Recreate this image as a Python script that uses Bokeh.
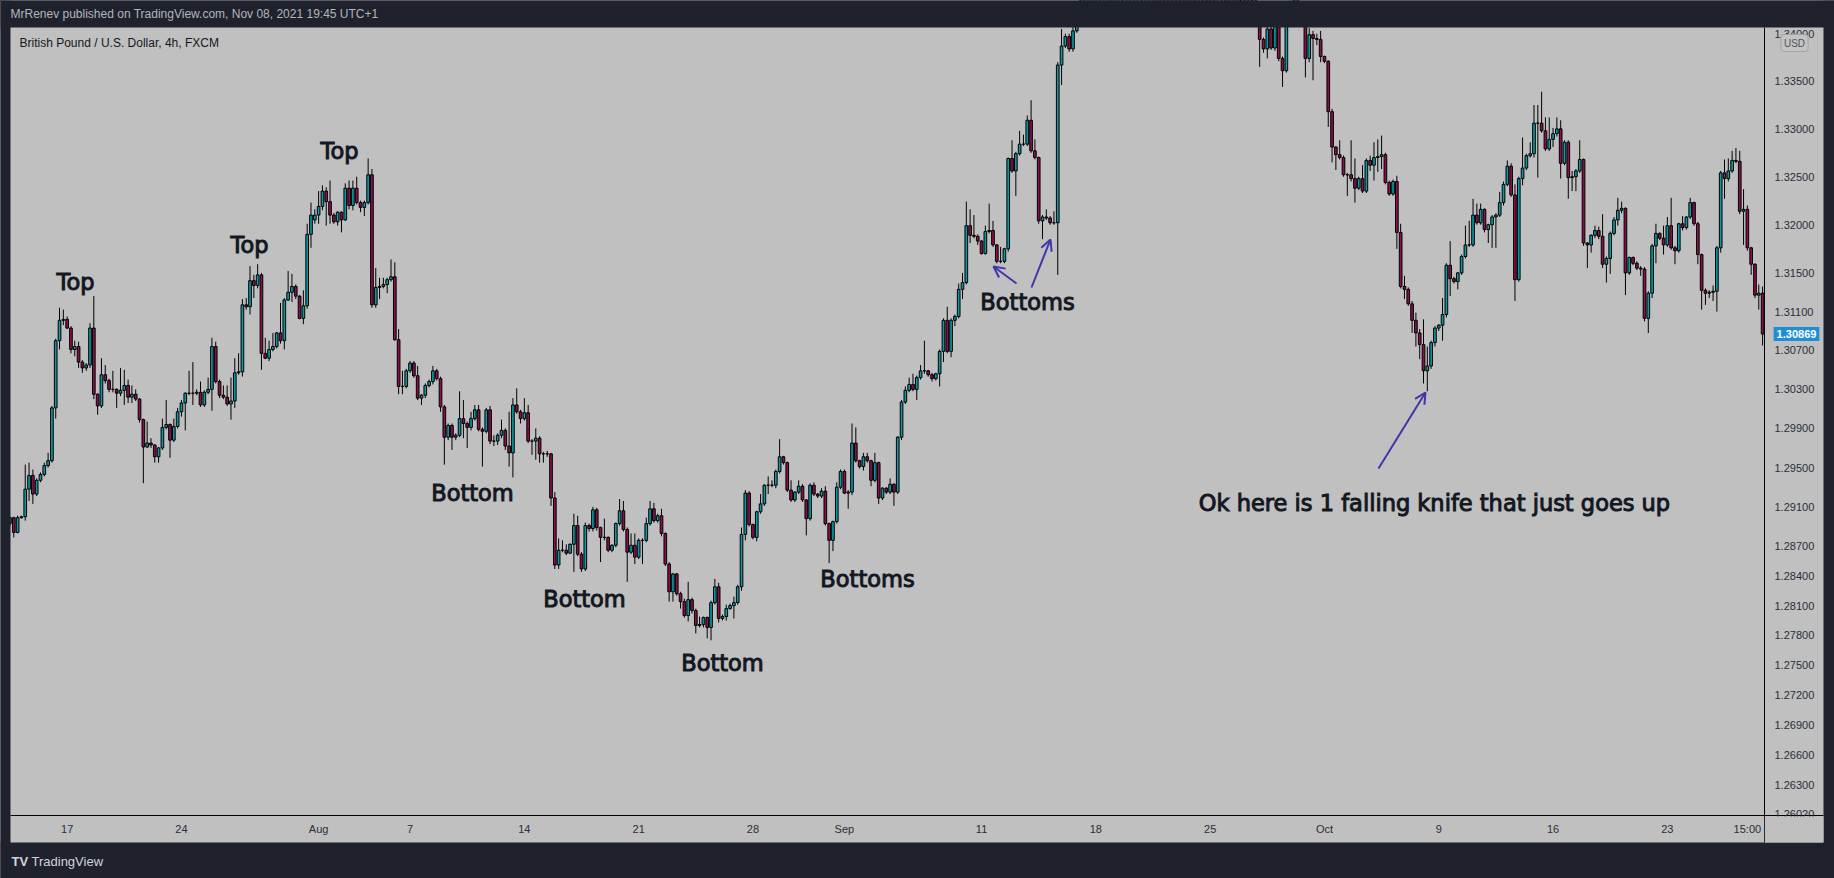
import numpy as np
from bokeh.plotting import figure
from bokeh.models import (ColumnDataSource, Range1d, LinearAxis, FixedTicker, PrintfTickFormatter,
                          Label, Arrow, OpenHead, BoxAnnotation, GlobalInlineStyleSheet)
from bokeh.embed import file_html
from bokeh.resources import INLINE

# GBP/USD 4h candles, values in pips above 1.2600 (price = 1.2600 + pips / 10000)
BASE = 1.26
open_pips = [
 293, 299, 284, 299, 300, 328, 342, 323, 337, 343, 352, 357, 411, 480, 501, 502, 493, 471, 474, 458,
 452, 455, 493, 425, 413, 445, 439, 430, 430, 426, 429, 434, 422, 425, 420, 399, 371, 375, 373, 361,
 370, 391, 394, 378, 392, 407, 416, 426, 426, 426, 427, 414, 427, 430, 474, 438, 424, 422, 415, 418,
 447, 448, 517, 515, 542, 537, 548, 467, 462, 471, 474, 488, 480, 522, 530, 536, 526, 503, 516, 590,
 605, 610, 619, 635, 624, 610, 603, 613, 605, 638, 620, 638, 623, 618, 623, 652, 517, 535, 536, 538,
 543, 546, 481, 433, 433, 449, 457, 444, 421, 424, 434, 438, 449, 441, 412, 381, 393, 381, 383, 400,
 395, 391, 400, 409, 389, 387, 409, 377, 377, 383, 388, 372, 365, 414, 407, 400, 406, 377, 377, 380,
 364, 364, 364, 319, 251, 266, 266, 263, 272, 291, 262, 247, 291, 288, 307, 289, 279, 279, 266, 271,
 293, 306, 287, 264, 271, 259, 276, 276, 293, 308, 296, 301, 283, 252, 224, 242, 222, 214, 200, 216,
 205, 190, 191, 198, 188, 213, 229, 197, 199, 207, 210, 213, 229, 282, 324, 292, 279, 305, 313, 332,
 332, 332, 346, 361, 355, 327, 317, 325, 331, 317, 298, 332, 323, 321, 326, 293, 276, 295, 330, 346,
 324, 325, 375, 357, 351, 361, 357, 337, 355, 319, 329, 325, 333, 325, 381, 417, 429, 435, 430, 442,
 449, 449, 445, 441, 446, 469, 501, 469, 501, 505, 533, 540, 599, 589, 588, 583, 570, 593, 594, 579,
 562, 562, 575, 669, 656, 674, 684, 684, 709, 677, 670, 604, 608, 607, 602, 602, 767, 787, 797, 784,
 803, 818, 845, 870, 880, 900, 910, 905, 915, 930, 925, 935, 950, 945, 960, 975, 990, 1000, 985, 1010,
 1030, 1040, 1020, 1000, 985, 970, 960, 950, 940, 930, 925, 910, 900, 905, 890, 880, 870, 860, 865, 855,
 850, 860, 845, 840, 835, 830, 840, 835, 810, 794, 784, 805, 785, 810, 774, 761, 812, 830, 835, 825,
 812, 774, 799, 795, 794, 776, 771, 718, 681, 673, 670, 652, 652, 648, 638, 648, 635, 667, 662, 670,
 671, 673, 644, 632, 645, 592, 536, 533, 518, 501, 488, 476, 449, 454, 478, 493, 496, 507, 558, 544,
 541, 550, 567, 579, 579, 610, 602, 616, 595, 600, 608, 610, 623, 642, 661, 631, 543, 648, 659, 672,
 674, 706, 706, 698, 679, 689, 695, 700, 664, 686, 649, 650, 656, 668, 581, 579, 589, 594, 588, 559,
 565, 591, 605, 615, 617, 550, 566, 560, 555, 554, 503, 529, 578, 591, 586, 579, 599, 576, 573, 601,
 597, 608, 623, 601, 569, 532, 529, 530, 531, 576, 654, 648, 656, 667, 666, 614, 616, 576, 559, 527,
 529]
high_pips = [
 300, 300, 301, 301, 353, 355, 348, 339, 345, 355, 365, 413, 482, 514, 512, 505, 495, 480, 479, 460,
 457, 498, 526, 426, 462, 455, 441, 449, 431, 452, 450, 440, 434, 430, 421, 400, 397, 380, 374, 371,
 400, 419, 395, 400, 411, 419, 427, 449, 458, 430, 438, 429, 442, 483, 479, 440, 434, 434, 442, 462,
 467, 523, 524, 557, 548, 559, 550, 483, 480, 488, 489, 519, 524, 552, 549, 538, 527, 532, 601, 623,
 616, 635, 641, 639, 646, 612, 614, 614, 643, 646, 646, 650, 625, 625, 669, 658, 555, 545, 545, 545,
 564, 561, 492, 449, 451, 459, 459, 454, 425, 436, 440, 454, 451, 443, 414, 395, 395, 385, 428, 419,
 397, 407, 414, 414, 391, 411, 413, 383, 385, 399, 390, 407, 421, 431, 409, 421, 414, 379, 390, 382,
 366, 367, 365, 325, 278, 276, 272, 273, 303, 301, 264, 294, 293, 310, 309, 290, 298, 280, 272, 294,
 318, 316, 289, 283, 283, 278, 278, 299, 316, 314, 303, 308, 284, 254, 243, 243, 224, 217, 234, 218,
 207, 199, 199, 199, 215, 237, 233, 201, 211, 212, 219, 231, 289, 327, 326, 293, 306, 323, 333, 341,
 337, 348, 379, 362, 356, 337, 326, 337, 333, 318, 334, 335, 324, 329, 331, 294, 296, 335, 348, 348,
 327, 395, 391, 358, 365, 365, 358, 365, 356, 330, 330, 339, 334, 382, 419, 433, 442, 446, 444, 455,
 480, 450, 447, 447, 471, 503, 515, 503, 507, 539, 550, 624, 616, 610, 590, 584, 599, 622, 604, 580,
 577, 576, 670, 688, 676, 698, 694, 714, 730, 689, 671, 610, 616, 609, 614, 770, 805, 800, 800, 808,
 822, 850, 875, 888, 905, 918, 915, 922, 938, 935, 942, 958, 955, 966, 980, 996, 1008, 1005, 1015, 1036,
 1050, 1045, 1026, 1005, 990, 975, 966, 955, 946, 935, 930, 915, 912, 908, 895, 885, 875, 872, 868, 860,
 866, 863, 850, 845, 840, 846, 843, 840, 820, 796, 808, 808, 815, 815, 776, 818, 835, 842, 840, 830,
 818, 806, 803, 800, 803, 777, 772, 721, 682, 688, 672, 654, 688, 669, 650, 662, 669, 672, 686, 689,
 693, 675, 646, 647, 651, 601, 547, 535, 521, 509, 492, 502, 474, 480, 495, 497, 524, 560, 583, 546,
 551, 569, 599, 604, 627, 622, 622, 617, 601, 610, 612, 634, 645, 667, 664, 642, 650, 691, 674, 686,
 725, 725, 739, 712, 712, 701, 712, 709, 688, 688, 656, 658, 688, 669, 582, 590, 599, 598, 611, 567,
 593, 608, 628, 624, 618, 567, 567, 562, 557, 556, 531, 580, 601, 592, 599, 608, 628, 578, 602, 609,
 609, 628, 624, 603, 570, 534, 532, 537, 578, 656, 668, 669, 677, 680, 677, 637, 620, 577, 560, 538,
 536]
low_pips = [
 291, 279, 283, 298, 296, 316, 313, 321, 335, 341, 350, 355, 400, 471, 496, 492, 467, 464, 452, 447,
 449, 452, 420, 404, 411, 436, 427, 427, 411, 423, 414, 416, 416, 418, 396, 334, 370, 370, 355, 355,
 368, 389, 360, 376, 390, 402, 388, 424, 414, 424, 412, 412, 425, 408, 436, 421, 420, 413, 399, 411,
 445, 443, 512, 507, 524, 534, 450, 461, 459, 469, 472, 477, 471, 521, 520, 523, 502, 497, 513, 576,
 601, 601, 615, 599, 601, 601, 599, 592, 604, 616, 615, 621, 613, 609, 621, 514, 514, 523, 534, 529,
 541, 480, 425, 425, 431, 447, 442, 419, 414, 421, 432, 435, 439, 407, 353, 378, 368, 378, 381, 380,
 370, 388, 398, 387, 351, 385, 374, 372, 373, 380, 368, 351, 340, 405, 395, 398, 375, 363, 358, 355,
 355, 361, 311, 247, 247, 264, 261, 262, 244, 260, 244, 245, 285, 285, 286, 254, 276, 264, 264, 269,
 291, 285, 234, 262, 252, 257, 252, 274, 291, 294, 294, 280, 250, 214, 214, 220, 207, 198, 194, 202,
 182, 188, 188, 177, 175, 211, 193, 195, 195, 206, 197, 211, 225, 276, 290, 277, 275, 303, 311, 323,
 330, 329, 344, 353, 325, 315, 315, 323, 315, 281, 296, 321, 319, 319, 291, 253, 265, 293, 328, 323,
 308, 322, 355, 349, 347, 355, 331, 335, 313, 317, 323, 323, 311, 323, 378, 415, 427, 428, 419, 440,
 446, 443, 438, 439, 433, 458, 467, 463, 495, 503, 523, 538, 581, 586, 579, 569, 569, 591, 577, 560,
 560, 560, 572, 654, 630, 672, 682, 682, 675, 668, 601, 585, 605, 600, 600, 548, 746, 785, 781, 781,
 801, 812, 840, 862, 875, 895, 898, 900, 910, 918, 920, 930, 938, 940, 955, 970, 985, 978, 980, 1005,
 1025, 1015, 995, 980, 965, 955, 945, 935, 925, 918, 905, 895, 895, 885, 875, 865, 855, 856, 850, 845,
 846, 840, 835, 830, 825, 826, 830, 815, 765, 780, 774, 783, 782, 771, 744, 759, 810, 825, 820, 812,
 754, 770, 751, 788, 770, 769, 702, 665, 657, 668, 650, 630, 645, 623, 636, 633, 633, 656, 646, 655,
 658, 642, 630, 630, 575, 534, 523, 516, 488, 474, 461, 436, 428, 451, 474, 490, 480, 504, 526, 539,
 533, 548, 565, 577, 577, 600, 600, 592, 581, 576, 576, 608, 620, 640, 629, 521, 541, 641, 657, 670,
 670, 649, 696, 677, 677, 681, 692, 648, 662, 627, 635, 635, 654, 578, 555, 571, 586, 585, 555, 540,
 549, 589, 599, 612, 527, 548, 558, 553, 547, 500, 488, 524, 560, 584, 569, 577, 574, 559, 571, 594,
 595, 606, 599, 559, 512, 517, 524, 521, 510, 571, 627, 645, 654, 664, 611, 579, 573, 548, 524, 512,
 475]
close_pips = [
 299, 284, 299, 300, 328, 342, 323, 337, 343, 352, 357, 411, 480, 501, 502, 493, 471, 474, 458, 452,
 455, 493, 425, 413, 445, 439, 430, 430, 426, 429, 434, 422, 425, 420, 399, 371, 375, 373, 361, 370,
 391, 394, 378, 392, 407, 416, 426, 426, 426, 427, 414, 427, 430, 474, 438, 424, 422, 415, 418, 447,
 448, 517, 515, 542, 537, 548, 467, 462, 471, 474, 488, 480, 522, 530, 536, 526, 503, 516, 590, 610,
 610, 619, 635, 624, 610, 603, 613, 605, 638, 620, 638, 623, 618, 623, 652, 517, 535, 536, 538, 543,
 546, 481, 433, 433, 449, 457, 444, 421, 424, 434, 438, 449, 441, 412, 381, 393, 381, 383, 400, 395,
 391, 400, 409, 389, 387, 409, 377, 377, 383, 388, 372, 365, 414, 407, 400, 406, 377, 377, 380, 364,
 364, 364, 319, 251, 266, 266, 263, 272, 291, 262, 247, 291, 288, 307, 289, 279, 279, 266, 271, 293,
 306, 287, 264, 271, 259, 276, 276, 293, 308, 296, 301, 283, 252, 224, 242, 222, 214, 200, 216, 205,
 190, 191, 198, 188, 213, 229, 197, 199, 207, 210, 213, 229, 282, 324, 292, 279, 305, 313, 332, 332,
 332, 346, 361, 355, 327, 317, 325, 331, 317, 298, 332, 323, 321, 326, 293, 276, 295, 330, 346, 324,
 325, 375, 357, 351, 361, 357, 337, 355, 319, 329, 325, 333, 325, 381, 417, 429, 435, 430, 442, 449,
 449, 445, 441, 446, 469, 501, 469, 501, 505, 533, 540, 599, 589, 588, 583, 570, 593, 594, 579, 562,
 562, 575, 669, 656, 674, 684, 684, 709, 677, 670, 604, 608, 607, 602, 602, 767, 787, 797, 784, 803,
 818, 845, 870, 880, 900, 910, 905, 915, 930, 925, 935, 950, 945, 960, 975, 990, 1000, 985, 1010, 1030,
 1040, 1020, 1000, 985, 970, 960, 950, 940, 930, 925, 910, 900, 905, 890, 880, 870, 860, 865, 855, 850,
 860, 845, 840, 835, 830, 840, 835, 825, 794, 784, 805, 785, 810, 774, 761, 812, 830, 835, 825, 815,
 774, 799, 795, 794, 776, 771, 718, 681, 673, 670, 652, 652, 648, 638, 648, 635, 667, 662, 670, 671,
 673, 644, 632, 645, 592, 536, 533, 518, 501, 488, 476, 449, 454, 478, 493, 496, 507, 558, 544, 541,
 550, 567, 579, 579, 610, 602, 616, 595, 600, 608, 610, 623, 642, 661, 631, 543, 648, 659, 672, 674,
 706, 706, 698, 679, 689, 695, 700, 664, 686, 649, 650, 656, 668, 581, 579, 589, 594, 588, 559, 565,
 591, 605, 615, 617, 550, 566, 560, 555, 554, 503, 529, 578, 591, 586, 579, 599, 576, 573, 601, 597,
 608, 623, 601, 569, 532, 529, 530, 531, 576, 654, 648, 656, 667, 666, 614, 616, 576, 559, 527, 529,
 486.9]

time_tick_bars = [15, 45, 81, 105, 135, 165, 195, 219, 255, 285, 315, 345, 375, 405, 435, 456]
time_tick_labels = ["17", "24", "Aug", "7", "14", "21", "28", "Sep", "11", "18", "25", "Oct",
                    "9", "16", "23", "15:00"]
price_ticks = [1.34, 1.335, 1.33, 1.325, 1.32, 1.315, 1.311, 1.307, 1.303, 1.299, 1.295, 1.291,
               1.287, 1.284, 1.281, 1.278, 1.275, 1.272, 1.269, 1.266, 1.263, 1.2602]
last_price = 1.30869

n = len(close_pips)
assert len(open_pips) == n and len(high_pips) == n and len(low_pips) == n

o = BASE + np.array(open_pips, dtype=float) / 10000
h = BASE + np.array(high_pips, dtype=float) / 10000
l = BASE + np.array(low_pips, dtype=float) / 10000
c = BASE + np.array(close_pips, dtype=float) / 10000
idx = np.arange(n)

TEAL = "#0b98a3"
MAROON = "#8a0f4c"
DARK = "#1f222c"
PANEL = "#c0c0c0"
INK = "#131722"
ARROW = "#3f37a8"

colors = np.where(c >= o, TEAL, MAROON)
src = ColumnDataSource(dict(x=idx, h=h, l=l, top=np.maximum(o, c), bottom=np.minimum(o, c), color=colors))

# chart geometry: price panel edges and the price-scale / time-scale positions
CHART_TOP, CHART_BOTTOM, PANEL_BOTTOM = 1.34066, 1.26000, 1.25733
CHART_LEFT, SCALE_X, PANEL_RIGHT = 0.13, 460.5, 475.98

p = figure(width=1834, height=878, output_backend="svg", toolbar_location=None,
           y_axis_type="log", x_axis_location=None, y_axis_location=None,
           x_range=Range1d(-2.4934, 478.87), y_range=Range1d(1.25377, 1.34351),
           min_border=0, min_border_left=0, min_border_right=0, min_border_top=0, min_border_bottom=0,
           background_fill_color=PANEL, border_fill_color=DARK, outline_line_color=None)
p.stylesheets.append(GlobalInlineStyleSheet(css="html, body { background-color: #1f222c; }"))
p.xgrid.visible = False
p.ygrid.visible = False

p.segment(x0="x", y0="l", x1="x", y1="h", line_color="black", line_width=1, source=src)
p.vbar(x="x", width=0.7, top="top", bottom="bottom", fill_color="color", line_color="black",
       line_width=1, source=src)

yax = LinearAxis(ticker=FixedTicker(ticks=price_ticks), formatter=PrintfTickFormatter(format="%.5f"),
                 fixed_location=SCALE_X, bounds=(PANEL_BOTTOM, CHART_TOP))
yax.axis_line_color = "black"
yax.major_tick_line_color = None
yax.minor_tick_line_color = None
yax.major_tick_out = 0
yax.major_tick_in = 0
yax.minor_tick_out = 0
yax.major_label_standoff = 10
yax.major_label_text_font = "Liberation Sans"
yax.major_label_text_font_size = "11px"
yax.major_label_text_color = "#2a2e39"
p.add_layout(yax, "right")

xax = LinearAxis(ticker=FixedTicker(ticks=time_tick_bars),
                 major_label_overrides=dict(zip(time_tick_bars, time_tick_labels)),
                 fixed_location=CHART_BOTTOM, bounds=(CHART_LEFT, PANEL_RIGHT))
xax.axis_line_color = "black"
xax.major_tick_line_color = None
xax.minor_tick_line_color = None
xax.major_tick_out = 0
xax.major_tick_in = 0
xax.minor_tick_out = 0
xax.major_label_standoff = 7
xax.major_label_text_font = "Liberation Sans"
xax.major_label_text_font_size = "11px"
xax.major_label_text_color = "#2a2e39"
p.add_layout(xax, "below")

# dark frame around the chart panel (drawn over clipped candles)
for kw in (dict(bottom=CHART_TOP), dict(top=PANEL_BOTTOM), dict(right=CHART_LEFT), dict(left=PANEL_RIGHT)):
    p.add_layout(BoxAnnotation(fill_color=DARK, fill_alpha=1, line_color=None, **kw))
p.add_layout(BoxAnnotation(left=SCALE_X + 0.07, right=PANEL_RIGHT, top=1.2599, bottom=PANEL_BOTTOM,
                           fill_color=PANEL, fill_alpha=1, line_color=None))

# header / footer texts (screen units)
p.add_layout(Label(x=10, y=865, x_units="screen", y_units="screen",
                   text="MrRenev published on TradingView.com, Nov 08, 2021 19:45 UTC+1",
                   text_font="Liberation Sans", text_font_size="12px", text_color="#b2b5be",
                   text_baseline="middle"))
p.add_layout(Label(x=19, y=836, x_units="screen", y_units="screen",
                   text="British Pound / U.S. Dollar, 4h, FXCM",
                   text_font="Liberation Sans", text_font_size="12px", text_color=INK,
                   text_baseline="middle"))
p.add_layout(Label(x=11, y=17, x_units="screen", y_units="screen", text="TV",
                   text_font="Liberation Sans", text_font_size="13px", text_font_style="bold",
                   text_color="#d1d4dc", text_baseline="middle"))
p.add_layout(Label(x=31, y=17, x_units="screen", y_units="screen", text="TradingView",
                   text_font="Liberation Sans", text_font_size="13px",
                   text_color="#d1d4dc", text_baseline="middle"))

# price scale badges
p.add_layout(Label(x=1794, y=835.5, x_units="screen", y_units="screen", text="USD",
                   text_font="Liberation Sans", text_font_size="10px", text_color="#50535e",
                   text_align="center", text_baseline="middle", background_fill_color="#c4c4c4",
                   border_line_color="#a3a3a3", padding=3, border_radius=3))
p.add_layout(Label(x=1796, y=last_price, x_units="screen", y_units="data", text="%.5f" % last_price,
                   text_font="Liberation Sans", text_font_size="11px", text_font_style="bold",
                   text_color="white", text_align="center", text_baseline="middle",
                   background_fill_color="#1e8fd6", padding=3))

# chart annotations
notes = [("Top", 75, 597), ("Top", 249, 634), ("Top", 339, 728),
         ("Bottom", 472, 386), ("Bottom", 584, 280), ("Bottom", 722, 216),
         ("Bottoms", 867, 300), ("Bottoms", 1027, 577),
         ("Ok here is 1 falling knife that just goes up", 1434, 376)]
for txt, sx, sy in notes:
    p.add_layout(Label(x=sx, y=sy, x_units="screen", y_units="screen", text=txt,
                       text_font="DejaVu Sans", text_font_size="22.5px", text_color=INK,
                       text_outline_color=INK,
                       text_align="center", text_baseline="middle"))

arrows = [(1016, 595, 993, 612), (1031, 591, 1050, 639), (1378, 410, 1425, 486)]
for x0, y0, x1, y1 in arrows:
    p.add_layout(Arrow(x_start=x0, y_start=y0, x_end=x1, y_end=y1,
                       start_units="screen", end_units="screen",
                       line_color=ARROW, line_width=2,
                       end=OpenHead(size=11, line_color=ARROW, line_width=2)))

open("out.html", "w").write(file_html(p, INLINE))
